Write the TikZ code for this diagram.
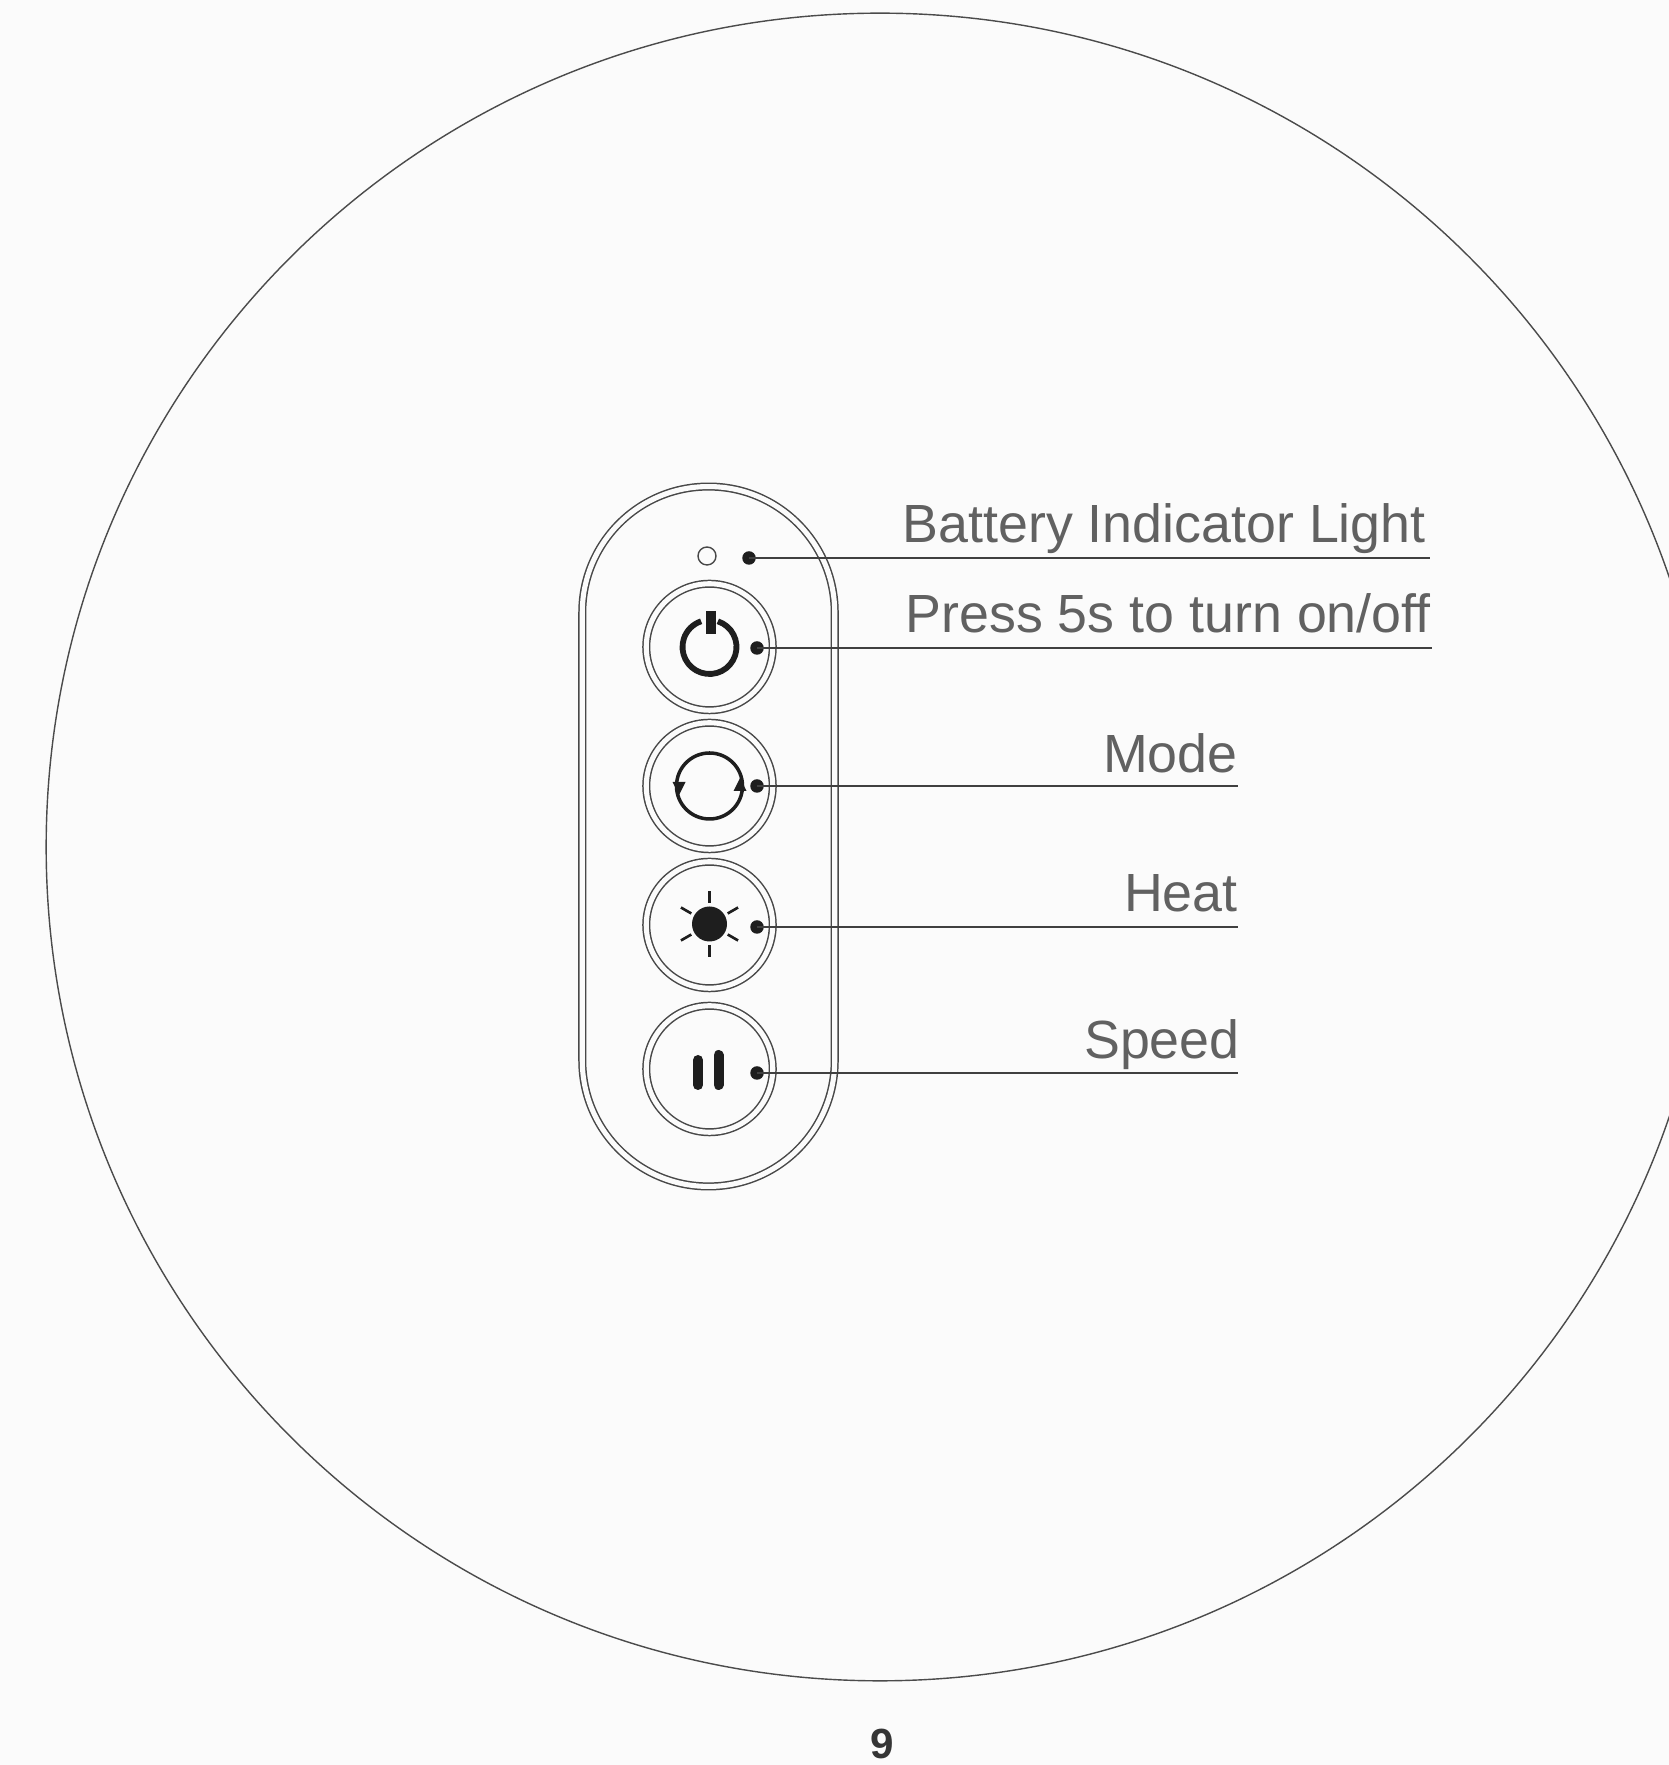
\documentclass[tikz,border=0pt]{standalone}
\usepackage{fontspec}
\setmainfont{Liberation Sans}
\usetikzlibrary{calc}

\definecolor{paper}{HTML}{FBFBFB}
\definecolor{ink}{HTML}{1E1E1E}
\definecolor{rim}{HTML}{484848}
\tikzset{
  panel/.style={draw=rim,double=paper,line width=0.85pt,double distance=2.9pt,rectangle,rounded corners=2.52cm,minimum width=5.05cm,minimum height=14cm,inner sep=0pt},
  btn/.style={draw=rim,double=paper,line width=0.85pt,double distance=2.9pt,circle,minimum size=2.53cm,inner sep=0pt},
  spot/.style={circle,fill=ink,minimum size=0.27cm,inner sep=0pt},
  lamp/.style={circle,draw=rim,line width=0.8pt,minimum size=0.36cm,inner sep=0pt},
  leader/.style={draw=ink!85,line width=1pt},
  callout/.style={anchor=base east,inner sep=0pt,text=ink!70,font=\fontsize{30.6}{36}\selectfont},
}

\begin{document}
\begin{tikzpicture}[x=0.02cm,y=0.02cm]
    \useasboundingbox[fill=paper] (0,0) rectangle (1669,1765);
    \node[circle,draw=ink!80,line width=0.8pt,minimum size=33.36cm,inner sep=0pt] (rim) at (880,918) {};
    \node[panel] (pill) at (708.5,928.5) {};
    \node[lamp] (lamp) at (707,1209) {};
    % buttons
    \foreach \name/\y in {power/1118,mode/979,heat/840,speed/696}
      \node[btn] (\name) at (709.5,\y) {};
    % callouts
    \foreach \name/\dotx/\doty/\endx/\texty/\textx/\words in {
        battery/749/1207/1430/1222/1426/Battery Indicator Light,
        press/757/1117/1432/1132.5/1431/{Press 5s to turn on/off},
        modes/757/979/1238/992/1238/Mode,
        heats/757/838/1238/853.5/1238/Heat,
        speeds/757/692/1238/706/1240/Speed} {
      \node[spot] (\name dot) at (\dotx,\doty) {};
      \coordinate (\name end) at (\endx,\doty);
      \draw[leader] (\name dot.center) -- (\name end);
      \node[callout] (\name label) at (\textx,\texty) {\words};
    }
    % power icon
    \draw[ink,line width=3.3pt,shift={(power)}] (72:27) arc[start angle=72,end angle=-252,radius=27];
    \draw[ink,line width=5.3pt,shift={(power)}] (1.5,36) -- (1.5,13);
    % mode icon
    \draw[ink,line width=2pt,shift={(mode)}] (0,0) circle[radius=33];
    \fill[ink,shift={(mode)}] (-37,4) -- (-24,4) -- (-30.5,-9) -- cycle;
    \fill[ink,shift={(mode)}] (24,-5) -- (37,-5) -- (30.5,8) -- cycle;
    % heat icon
    \fill[ink,shift={(heat)}] (0,1) circle[radius=17.5];
    \foreach \a in {30,90,...,330}
      \draw[ink,line width=1.5pt,shift={(heat)}] ($(0,1)+(\a:21)$) -- ($(0,1)+(\a:33)$);
    % speed icon
    \draw[ink,line width=5.7pt,line cap=round,shift={(speed)}] (-11.5,9) -- (-11.5,-16);
    \draw[ink,line width=5.7pt,line cap=round,shift={(speed)}] (9,14) -- (9,-16);
    % page number
    \node[text=ink!90,font=\fontsize{24}{30}\selectfont\bfseries] (pagenum) at (882,21) {9};
\end{tikzpicture}
\end{document}
